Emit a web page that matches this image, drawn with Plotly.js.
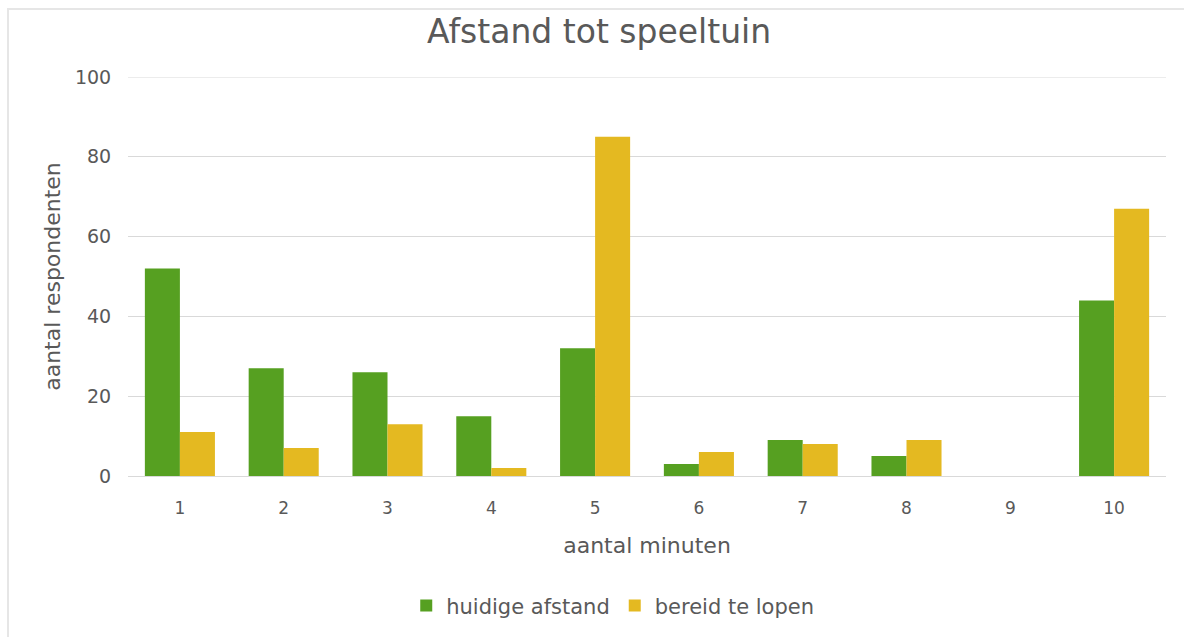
<!DOCTYPE html>
<html>
<head>
<meta charset="utf-8">
<script src="https://cdn.plot.ly/plotly-3.0.1.min.js"></script>
<style>
html,body{margin:0;padding:0;background:#fff;}
#frame{position:absolute;left:7px;top:8px;width:1200px;height:700px;border-top:2px solid #e6e6e6;border-left:2px solid #e6e6e6;pointer-events:none;}
#chart{width:1184px;height:637px;}
</style>
</head>
<body>
<div id="chart"></div>
<div id="frame"></div>
<script>
const categories = ["1","2","3","4","5","6","7","8","9","10"];
const huidigeAfstand = [52, 27, 26, 15, 32, 3, 9, 5, 0, 44];
const bereidTeLopen = [11, 7, 13, 2, 85, 6, 8, 9, 0, 67];
const yTicks = [0, 20, 40, 60, 80, 100];

const fontFam = "'DejaVu Sans', Verdana, sans-serif";
const textCol = "#595959";

const traces = [
  {type:"bar", name:"huidige afstand", x:categories, y:huidigeAfstand,
   marker:{color:"#56A021"}},
  {type:"bar", name:"bereid te lopen", x:categories, y:bereidTeLopen,
   marker:{color:"#E4B921"}}
];

const layout = {
  width:1184, height:637,
  paper_bgcolor:"#fff", plot_bgcolor:"#fff",
  margin:{l:128, r:18, t:77, b:160},
  barmode:"group", bargap:0.325, bargroupgap:0,
  title:{text:"Afstand tot speeltuin", font:{family:fontFam, size:33, color:textCol},
         x:0.506, xanchor:"center", y:0.95, yanchor:"middle"},
  xaxis:{type:"category", showgrid:false, showline:true, linecolor:"#d9d9d9", linewidth:1,
         ticks:"outside", ticklen:17, tickcolor:"rgba(0,0,0,0)",
         tickfont:{family:fontFam, size:17, color:textCol},
         title:{text:"aantal minuten", font:{family:fontFam, size:22, color:textCol}, standoff:20}},
  yaxis:{range:[0,100], tickvals:yTicks, showgrid:true, gridcolor:"#d9d9d9", gridwidth:1,
         zeroline:false, showline:false, ticks:"outside", ticklen:12, tickcolor:"rgba(0,0,0,0)",
         tickfont:{family:fontFam, size:19, color:textCol},
         title:{text:"aantal respondenten", font:{family:fontFam, size:22, color:textCol}, standoff:8}},
  shapes:[{type:"line", xref:"paper", x0:0, x1:1, yref:"y", y0:100, y1:100,
           line:{color:"#d9d9d9", width:1}, layer:"below"}],
  legend:{orientation:"h", x:0.467, xanchor:"center", y:-0.322, yanchor:"middle",
          font:{family:fontFam, size:21, color:textCol}, itemwidth:30, traceorder:"normal"},
  showlegend:true
};

Plotly.newPlot("chart", traces, layout, {displayModeBar:false, staticPlot:true});
</script>
</body>
</html>
